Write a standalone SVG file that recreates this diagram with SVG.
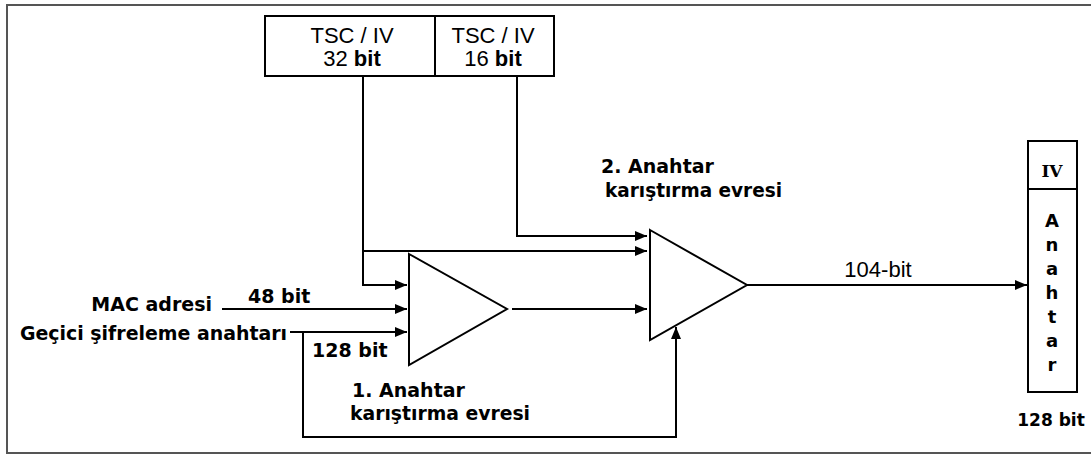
<svg xmlns="http://www.w3.org/2000/svg" width="1091" height="456" viewBox="0 0 1091 456">
<defs>
<marker id="ah" viewBox="0 0 12 10" refX="12" refY="5" markerWidth="12" markerHeight="10" markerUnits="userSpaceOnUse" orient="auto">
<path d="M0,0 L12,5 L0,10 Z" fill="#000"/>
</marker>
<style>
.ln{fill:none;stroke:#000;stroke-width:2}
.arr{fill:none;stroke:#000;stroke-width:2;marker-end:url(#ah)}
.box{fill:#fff;stroke:#000;stroke-width:2}
.v{font-family:"DejaVu Sans",Verdana,sans-serif;font-weight:bold;font-size:19px;fill:#000}
.a{font-family:"Liberation Sans",Arial,sans-serif;font-size:22px;fill:#000}
.s{font-family:"DejaVu Serif",serif;font-weight:bold;font-size:17px;fill:#000}
.sm{font-size:17px}
.let{font-size:18px}
</style>
</defs>
<rect x="7" y="5" width="1095" height="448" fill="#fff" stroke="#555" stroke-width="2"/>

<g id="connectors">
<polyline class="arr" points="363,76 363,285 407,285"/>
<polyline class="arr" points="363,251 647,251"/>
<polyline class="arr" points="517,76 517,236 647,236"/>
<line class="arr" x1="222" y1="309" x2="407" y2="309"/>
<line class="arr" x1="290" y1="332" x2="407" y2="332"/>
<line class="arr" x1="512" y1="309" x2="647" y2="309"/>
<polyline class="arr" points="303,332 303,437 676,437 676,327"/>
<line class="arr" x1="747" y1="285" x2="1027" y2="285"/>
</g>

<g id="tsc32">
<rect class="box" x="265" y="16" width="170" height="60"/>
<text class="a" x="352" y="43" text-anchor="middle">TSC / IV</text>
<text class="a" x="352" y="66" text-anchor="middle">32 <tspan font-weight="bold">bit</tspan></text>
</g>
<g id="tsc16">
<rect class="box" x="435" y="16" width="119" height="60"/>
<text class="a" x="493" y="43" text-anchor="middle">TSC / IV</text>
<text class="a" x="493" y="66" text-anchor="middle">16 <tspan font-weight="bold">bit</tspan></text>
</g>

<g id="mix1">
<polygon class="box" points="409,254 507,309 409,365"/>
<text class="v" x="352" y="397">1. Anahtar</text>
<text class="v" x="350" y="420" textLength="180" lengthAdjust="spacingAndGlyphs">karıştırma evresi</text>
</g>
<g id="mix2">
<polygon class="box" points="650,230 747,285 650,340"/>
<text class="v" x="601" y="173">2. Anahtar</text>
<text class="v" x="605" y="197" textLength="177" lengthAdjust="spacingAndGlyphs">karıştırma evresi</text>
</g>

<g id="mac">
<text class="v" x="212" y="311" text-anchor="end">MAC adresi</text>
<text class="v" x="248" y="303">48 bit</text>
</g>
<g id="key">
<text class="v" x="20" y="340" textLength="267" lengthAdjust="spacingAndGlyphs">Geçici şifreleme anahtarı</text>
<text class="v" x="312" y="357">128 bit</text>
</g>

<g id="label104">
<text class="a" x="878" y="277" text-anchor="middle">104-bit</text>
</g>

<g id="output">
<rect class="box" x="1028" y="141" width="49" height="48"/>
<rect class="box" x="1028" y="189" width="49" height="203"/>
<text class="s" x="1052" y="177" text-anchor="middle">IV</text>
<text class="v let" x="1052" text-anchor="middle">
<tspan x="1052" y="227">A</tspan><tspan x="1052" y="251">n</tspan><tspan x="1052" y="275">a</tspan><tspan x="1052" y="299">h</tspan><tspan x="1052" y="323">t</tspan><tspan x="1052" y="347">a</tspan><tspan x="1052" y="371">r</tspan>
</text>
<text class="v sm" x="1051" y="426" text-anchor="middle">128 bit</text>
</g>
</svg>
